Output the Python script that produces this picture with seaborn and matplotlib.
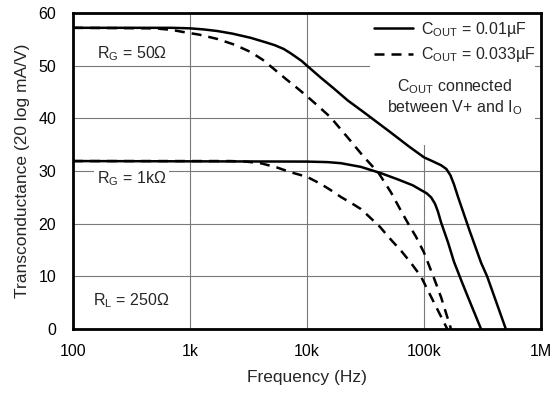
import numpy as np
import pandas as pd
import matplotlib
matplotlib.use("Agg")
import matplotlib.pyplot as plt
from matplotlib.lines import Line2D
from matplotlib.patches import Rectangle
import seaborn as sns

# ---------------- data ----------------
# R_G = 50 ohm, C_OUT = 0.01 uF (solid)
f_50_a = [100, 700, 1000, 1300, 1700, 2300, 3300, 4500, 5300, 6300, 7200,
          8000, 9000, 10000, 13000, 16900, 22300, 30000, 50000, 75000, 100000,
          120000, 140000, 155000, 168000, 180000, 195000, 243000, 307000,
          346000, 500000]
v_50_a = [57.2, 57.2, 57.1, 56.9, 56.6, 56.1, 55.3, 54.4, 53.9, 53.2, 52.4,
          51.7, 50.9, 50.0, 47.8, 45.7, 43.4, 41.3, 37.6, 34.6, 32.6,
          31.8, 31.1, 30.4, 29.2, 27.5, 25.1, 18.9, 12.6,
          10.0, 0.0]
# R_G = 50 ohm, C_OUT = 0.033 uF (dashed)
f_50_b = [100, 500, 700, 877, 1200, 1700, 2400, 3300, 4200, 5200, 6500, 8300,
          10000, 12500, 15900, 23000, 30000, 41000, 52000, 63000, 75000,
          85000, 100000, 120000, 140000, 170000]
v_50_b = [57.2, 57.1, 56.8, 56.4, 55.9, 55.1, 54.0, 52.6, 51.1, 49.4, 47.6,
          45.7, 44.2, 42.3, 40.2, 36.0, 32.9, 29.6, 26.0, 22.6, 19.6,
          17.6, 14.5, 10.0, 6.0, 0.0]
# R_G = 1k ohm, C_OUT = 0.01 uF (solid)
f_1k_a = [100, 10000, 15000, 19400, 28800, 42800, 60000, 80000, 94000, 105000,
          115000, 124000, 131000, 140000, 160000, 180000, 210000, 238000, 307000]
v_1k_a = [31.9, 31.8, 31.7, 31.5, 30.8, 29.6, 28.4, 27.3, 26.4, 25.8,
          25.0, 23.8, 22.4, 20.2, 16.5, 12.8, 9.0, 6.0, 0.0]
# R_G = 1k ohm, C_OUT = 0.033 uF (dashed)
f_1k_b = [100, 2200, 3000, 4000, 5500, 7200, 10000, 13000, 15900, 19400,
          24000, 28800, 33000, 42000, 52000, 64000, 77000, 94000, 108000,
          131000, 158000]
v_1k_b = [31.9, 31.9, 31.8, 31.5, 30.7, 29.8, 28.9, 27.6, 26.4, 25.1,
          23.9, 22.8, 21.6, 19.4, 17.0, 14.8, 12.6, 10.0, 7.3,
          3.6, 0.0]

x_ticks = [100, 1000, 10000, 100000, 1000000]
x_tick_labels = ["100", "1k", "10k", "100k", "1M"]
y_ticks = [0, 10, 20, 30, 40, 50, 60]

series = [
    ("50", "0.01", f_50_a, v_50_a),
    ("50", "0.033", f_50_b, v_50_b),
    ("1k", "0.01", f_1k_a, v_1k_a),
    ("1k", "0.033", f_1k_b, v_1k_b),
]
frames = []
for rg, cout, f, v in series:
    frames.append(pd.DataFrame({"freq": f, "gm": v, "rg": rg, "cout": cout}))
df = pd.concat(frames, ignore_index=True)

# ---------------- style ----------------
sns.set_style("white")
plt.rcParams["font.family"] = ["Liberation Sans", "DejaVu Sans"]
plt.rcParams["mathtext.fontset"] = "custom"
plt.rcParams["mathtext.rm"] = "Liberation Sans"
plt.rcParams["mathtext.it"] = "Liberation Sans"
plt.rcParams["mathtext.bf"] = "Liberation Sans"
plt.rcParams["mathtext.default"] = "rm"

fig = plt.figure(figsize=(5.51, 3.96), dpi=100)
ax = fig.add_axes([0.1325, 0.169, 0.8495, 0.798])

LW = 1.8
dash = (4, 2.8)
for rg, cout, f, v in series:
    sub = df[(df.rg == rg) & (df.cout == cout)]
    kws = dict(color="black", linewidth=LW, zorder=3)
    sns.lineplot(data=sub, x="freq", y="gm", ax=ax, estimator=None,
                 sort=False, legend=False, **kws)
    ln = ax.lines[-1]
    ln.set_solid_joinstyle("round")
    ln.set_dash_joinstyle("round")
    if cout == "0.033":
        ln.set_linestyle((0, dash))

ax.set_xscale("log")
ax.set_xlim(100, 1e6)
ax.set_ylim(0, 60)
ax.set_xticks(x_ticks)
ax.set_xticklabels(x_tick_labels)
ax.set_yticks(y_ticks)
ax.xaxis.set_minor_locator(matplotlib.ticker.NullLocator())
ax.tick_params(axis="both", length=0, labelsize=11.5, colors="black")
ax.tick_params(axis="x", pad=11)
ax.tick_params(axis="y", pad=12)
ax.grid(True, which="major", color="#7a7a7a", linewidth=0.8)
ax.set_axisbelow(True)
for s in ax.spines.values():
    s.set_visible(True)
    s.set_color("black")
    s.set_linewidth(2.0)

ax.set_xlabel("Frequency (Hz)", fontsize=12.5, labelpad=8)
ax.set_ylabel("Transconductance (20 log mA/V)", fontsize=12.5, labelpad=6)

# white panel behind legend / note
ax.add_patch(Rectangle((0.635, 0.582), 0.352, 0.418, transform=ax.transAxes,
                       facecolor="white", edgecolor="none", zorder=1))

handles = [Line2D([], [], color="black", linewidth=LW),
           Line2D([], [], color="black", linewidth=LW, linestyle=(0, dash))]
labels = [r"C$_{OUT}$ = 0.01µF", r"C$_{OUT}$ = 0.033µF"]
leg = ax.legend(handles, labels, loc="upper right",
                bbox_to_anchor=(0.987, 0.978), frameon=False,
                fontsize=11.5, handlelength=2.45, handletextpad=0.5,
                borderpad=0, borderaxespad=0, labelspacing=0.4)

ax.text(0.816, 0.735, "C$_{OUT}$ connected\nbetween V+ and I$_{O}$",
        transform=ax.transAxes, ha="center", va="center",
        multialignment="center", fontsize=11.5, linespacing=1.15, zorder=4)

ax.text(0.0513, 0.858, r"R$_{G}$ = 50Ω", transform=ax.transAxes,
        ha="left", va="baseline", fontsize=11.5, zorder=4)
ax.text(0.0513, 0.462, r"R$_{G}$ = 1kΩ", transform=ax.transAxes,
        ha="left", va="baseline", fontsize=11.5, zorder=4,
        bbox=dict(facecolor="white", edgecolor="none", pad=2))
ax.text(0.043, 0.076, r"R$_{L}$ = 250Ω", transform=ax.transAxes,
        ha="left", va="baseline", fontsize=11.5, zorder=4)

fig.savefig("out.png", dpi=100)
